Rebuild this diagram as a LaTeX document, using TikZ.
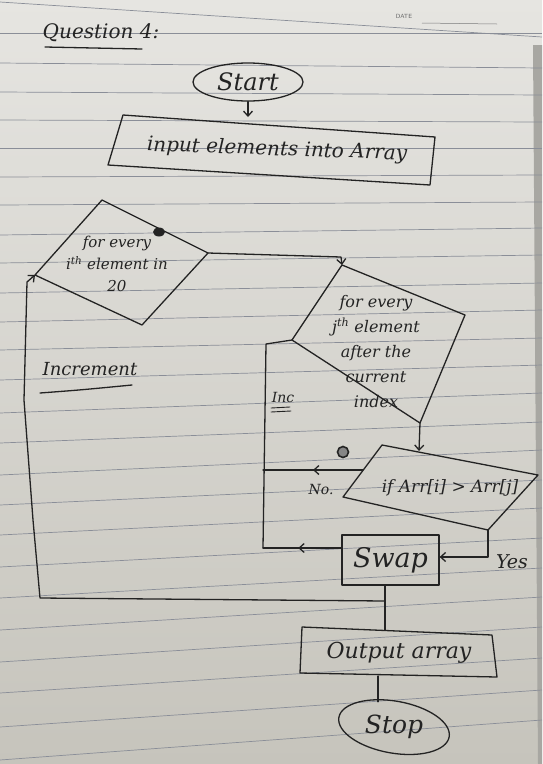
\documentclass[tikz,border=0pt]{standalone}
\usepackage{fontspec}
\setmainfont{DejaVu Serif}
\usetikzlibrary{arrows.meta,decorations.markings,shapes.geometric}
\definecolor{paperhi}{HTML}{E6E5E1}
\definecolor{paperlo}{HTML}{C6C4BC}
\definecolor{ruling}{HTML}{8A8E98}
\definecolor{ink}{HTML}{232323}
\definecolor{pageedge}{HTML}{A8A7A2}
\begin{document}
\begin{tikzpicture}[x=1pt,y=-1pt,
  inkline/.style={draw=ink,line width=1.3pt,line join=round,line cap=round},
  tip/.style={-{Straight Barb[length=5pt,width=9pt]}},
  midtip/.style={postaction={decorate},decoration={markings,
      mark=at position #1 with {\arrow{Straight Barb[length=5pt,width=9pt]}}}},
  hand/.style={text=ink,inner sep=0pt,font=\itshape\fontsize{#1}{#1}\selectfont},
  block/.style 2 args={text=ink,inner sep=0pt,align=center,
      font=\itshape\fontsize{#1}{#2}\selectfont},
  rule line/.style={draw=ruling,line width=0.7pt}]
\useasboundingbox (0,0) rectangle (542,764);

% paper and ruling
\shade[top color=paperhi,bottom color=paperlo] (0,0) rectangle (542,764);
\fill[pageedge] (533,45) -- (542,45) -- (542,764) -- (538,764) -- cycle;
\draw[rule line] (0,2) -- (542,37);
\draw[rule line] (0,33) -- (542,33);
\foreach \yl/\yr in {63/68,92/95,120/122,148/148,177/175,205/202,235/228,
    263/255,293/283,322/310,350/338,380/365,413/393,443/422,475/450,505/480,
    535/508,567/538,598/568,630/597,662/627,693/658,727/690,760/720}
  \draw[rule line] (0,\yl) -- (542,\yr);
\node[text=ink!70,font=\sffamily\fontsize{6}{6}\selectfont] (datelbl) at (404,16) {DATE};
\draw[draw=ink!60,line width=0.5pt] (422,23) -- (497,24);

% heading
\node[hand=20] (qtitle) at (101,33) {Question 4:};
\draw[inkline] (45,47) -- (142,49);

% start and input
\node[inkline,ellipse,minimum width=110pt,minimum height=38pt,inner sep=0pt,
      hand=24] (start) at (248,82) {Start};
\coordinate (ib1) at (123,115);
\coordinate (ib2) at (435,137);
\coordinate (ib3) at (430,185);
\coordinate (ib4) at (108,165);
\coordinate (inTop) at (248,117);
\draw[inkline] (ib1) -- (ib2) -- (ib3) -- (ib4) -- cycle;
\node[hand=20,rotate=-2] (inputtxt) at (277,150) {input elements into Array};
\draw[inkline,tip] (start.south) -- (inTop);

% outer loop
\coordinate (d1t) at (102,200);
\coordinate (d1r) at (208,253);
\coordinate (d1b) at (142,325);
\coordinate (d1l) at (35,275);
\draw[inkline] (d1t) -- (d1r) -- (d1b) -- (d1l) -- cycle;
\node[block={15}{22}] (outerloop) at (117,264) {for every\\ i\textsuperscript{th} element in\\ 20};
\fill[ink] (159,232) ellipse (6 and 4.5);

% inner loop
\coordinate (s2t) at (342,265);
\coordinate (s2r) at (465,315);
\coordinate (s2b) at (420,423);
\coordinate (s2l) at (292,340);
\draw[inkline] (s2t) -- (s2r) -- (s2b) -- (s2l) -- cycle;
\node[block={16}{25}] (innerloop) at (376,352)
  {for every\\ j\textsuperscript{th} element\\ after the\\ current\\ index};
\coordinate (j1) at (341,257);
\draw[inkline,tip] (d1r) -- (j1) -- (s2t);

% comparison
\coordinate (ift) at (382,445);
\coordinate (ifr) at (538,475);
\coordinate (ifbr) at (488,530);
\coordinate (ifl) at (343,497);
\draw[inkline] (ift) -- (ifr) -- (ifbr) -- (ifl) -- cycle;
\node[hand=17] (cond) at (450,488) {if Arr[i] > Arr[j]};
\draw[draw=ink,fill=ink!55,line width=1.6pt] (343,452) circle (5.5);
\coordinate (ifTop) at (419,451);
\draw[inkline,tip] (s2b) -- (ifTop);

% swap
\node[inkline,rectangle,minimum width=97pt,minimum height=50pt,inner sep=0pt,
      hand=27] (swap) at (390.5,560) {Swap};
\coordinate (yesBend) at (488,557);
\draw[inkline,tip] (ifbr) -- (yesBend) -- ([yshift=3pt]swap.east);
\node[hand=19] (yeslbl) at (512,562) {Yes};

% back to the inner loop
\coordinate (ifNo) at (363,470);
\coordinate (noJoin) at (263,470);
\coordinate (swapJoin) at (263,548);
\coordinate (upBend) at (266,344);
\draw[inkline,midtip=0.5] (ifNo) -- (noJoin);
\draw[inkline,midtip=0.55] ([yshift=12pt]swap.west) -- (swapJoin);
\draw[inkline] (swapJoin) -- (upBend) -- (s2l);
\node[hand=14] (nolbl) at (321,489) {No.};
\node[hand=14] (inclbl) at (283,397) {Inc};
\draw[inkline,line width=0.9pt] (271,408) -- (290,407);
\draw[inkline,line width=0.9pt] (271,412) -- (291,411);

% back to the outer loop
\coordinate (outTop) at (385,630);
\coordinate (loopJoin) at (385,601);
\coordinate (lpA) at (40,598);
\coordinate (lpB) at (33,520);
\coordinate (lpC) at (24,400);
\coordinate (lpD) at (27,282);
\draw[inkline] ([xshift=-5.5pt]swap.south) -- (outTop);
\draw[inkline,tip] (loopJoin) -- (lpA) -- (lpB) -- (lpC) -- (lpD) -- (d1l);
\node[hand=18] (inclbl2) at (90,369) {Increment};
\draw[inkline] (40,393) .. controls (80,390) .. (132,385);

% output and stop
\coordinate (ob1) at (302,627);
\coordinate (ob2) at (492,635);
\coordinate (ob3) at (497,677);
\coordinate (ob4) at (300,673);
\draw[inkline] (ob1) -- (ob2) -- (ob3) -- (ob4) -- cycle;
\node[hand=22] (outtxt) at (399,653) {Output array};
\node[hand=25,minimum width=112pt,minimum height=52pt,inner sep=0pt]
  (stop) at (394,727) {Stop};
\draw[inkline,rotate around={-10:(stop.center)}] (stop.center) ellipse (56 and 26);
\coordinate (outBot) at (378,676);
\draw[inkline] (outBot) -- ([yshift=-1pt]outBot |- stop.north);
\end{tikzpicture}
\end{document}
